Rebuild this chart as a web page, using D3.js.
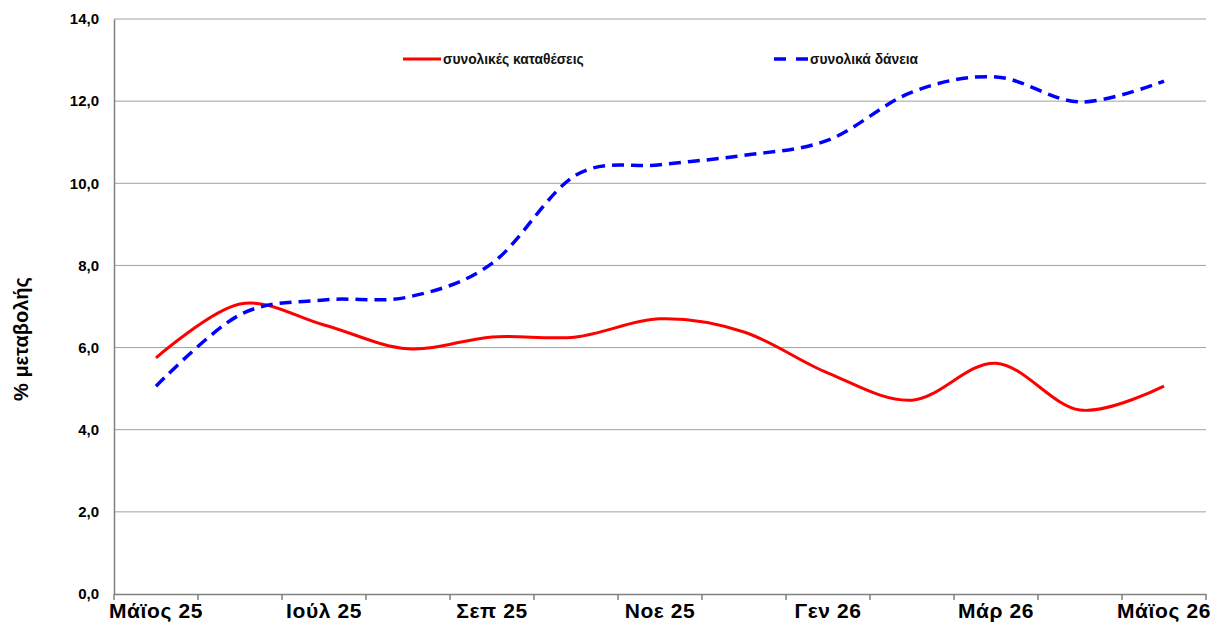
<!DOCTYPE html>
<html><head><meta charset="utf-8">
<script src="https://cdn.jsdelivr.net/npm/d3@7"></script>
<style>body{margin:0;background:#fff}svg{display:block}</style>
</head><body><svg id="c" width="1215" height="629"></svg>
<script>
const categories = ["Μάϊος 25","Ιούν 25","Ιούλ 25","Αύγ 25","Σεπ 25","Οκτ 25","Νοε 25","Δεκ 25","Γεν 26","Φεβ 26","Μάρ 26","Απρ 26","Μάϊος 26"];
const deposits = [5.75, 7.06, 6.55, 5.97, 6.26, 6.26, 6.70, 6.38, 5.38, 4.72, 5.62, 4.48, 5.06];
const loans = [5.06, 6.80, 7.16, 7.23, 8.05, 10.20, 10.45, 10.68, 11.05, 12.22, 12.59, 11.98, 12.49];
const yTicks = [0, 2, 4, 6, 8, 10, 12, 14];
const seriesNames = ["συνολικές καταθέσεις", "συνολικά δάνεια"];

const svg = d3.select("#c");
const L = 114, R = 1206, T = 19, B = 594;
const x = d3.scaleBand().domain(categories).range([L, R]).padding(0);
const y = d3.scaleLinear().domain([0, 14]).range([B, T]);

// gridlines
svg.append("g").selectAll("line").data(yTicks.filter(d => d > 0)).join("line")
  .attr("x1", L).attr("x2", R).attr("y1", d => y(d)).attr("y2", d => y(d))
  .attr("stroke", "#a0a0a0").attr("stroke-width", 1);

// y axis
const ya = svg.append("g").attr("transform", `translate(${L},0)`)
  .call(d3.axisLeft(y).tickValues(yTicks).tickSize(0).tickPadding(15).tickFormat(d => d3.format(".1f")(d).replace(".", ",")));
ya.select(".domain").attr("stroke", "#808080").attr("stroke-width", 1.5);
ya.selectAll("text").attr("font-family", "Liberation Sans, Arial, sans-serif").attr("font-weight", "bold").attr("font-size", 15).attr("fill", "#000");

// x axis
const xa = svg.append("g").attr("transform", `translate(0,${B})`)
  .call(d3.axisBottom(x).tickSize(0).tickPadding(9).tickFormat((d, i) => i % 2 === 0 ? d : ""));
xa.select(".domain").attr("stroke", "#808080").attr("stroke-width", 1.5);
xa.selectAll("text").attr("font-family", "Liberation Sans, Arial, sans-serif").attr("font-weight", "bold").attr("font-size", 21).attr("letter-spacing", 0.6).attr("fill", "#000").attr("dy", "0.72em");
// boundary tick marks
const bounds = categories.map(c => x(c)).concat([R]);
svg.append("g").selectAll("line").data(bounds).join("line")
  .attr("x1", d => d).attr("x2", d => d).attr("y1", B).attr("y2", B + 6)
  .attr("stroke", "#808080").attr("stroke-width", 1.5);

// y title
svg.append("text").attr("transform", "translate(28,339) rotate(-90)")
  .attr("text-anchor", "middle").attr("font-family", "Liberation Sans, Arial, sans-serif")
  .attr("font-weight", "bold").attr("font-size", 20).text("% μεταβολής");

const cx = d => x(d) + x.bandwidth() / 2;
const line = d3.line().x((d, i) => cx(categories[i])).y(d => y(d)).curve(d3.curveCatmullRom.alpha(0));

svg.append("path").datum(deposits).attr("d", line).attr("fill", "none")
  .attr("stroke", "#ff0000").attr("stroke-width", 3);
svg.append("path").datum(loans).attr("d", line).attr("fill", "none")
  .attr("stroke", "#0000ff").attr("stroke-width", 3.5).attr("stroke-dasharray", "12,7");

// legend
const leg = [{x: 403, len: 38, color: "#ff0000", dash: null, w: 3}, {x: 774, len: 34, color: "#0000ff", dash: "12,10", w: 3.5}];
leg.forEach((l, i) => {
  svg.append("line").attr("x1", l.x).attr("x2", l.x + l.len).attr("y1", 59).attr("y2", 59)
    .attr("stroke", l.color).attr("stroke-width", l.w).attr("stroke-dasharray", l.dash);
  svg.append("text").attr("x", l.x + l.len + 2).attr("y", 64)
    .attr("font-family", "Liberation Sans, Arial, sans-serif").attr("font-size", 13.8).attr("font-weight", "bold")
    .attr("fill", "#111").text(seriesNames[i]);
});
</script></body></html>
